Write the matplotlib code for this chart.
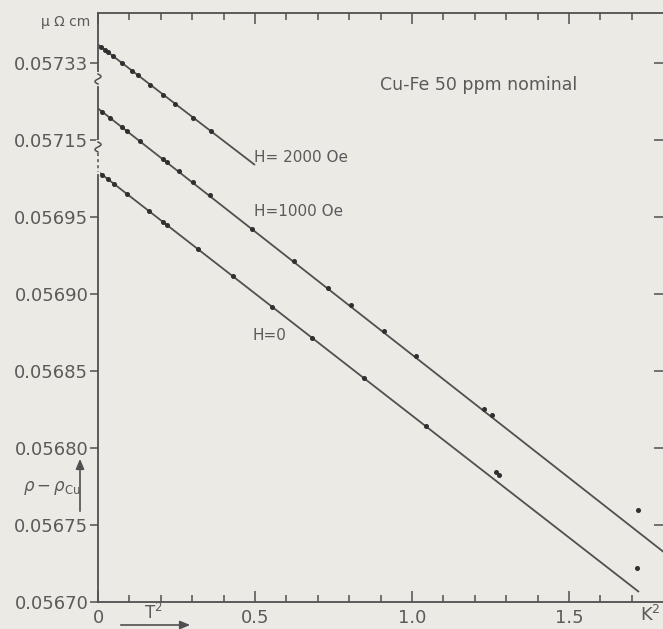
import numpy as np
import matplotlib
matplotlib.use("Agg")
import matplotlib.pyplot as plt

# ---------------- data (values in micro-ohm cm, x in K^2) ----------------
t2_h0 = [0.013, 0.032, 0.051, 0.092, 0.162, 0.207, 0.220, 0.318, 0.430, 0.554,
         0.682, 0.847, 1.045, 1.268, 1.277, 1.717]
rho_h0 = [0.0569775, 0.0569745, 0.0569715, 0.0569649, 0.0569538, 0.0569468,
          0.0569447, 0.0569292, 0.0569115, 0.0568918, 0.0568716, 0.0568454,
          0.0568141, 0.0567844, 0.0567825, 0.0567221]
line_h0_t2 = [0.0, 1.723]
line_h0_rho = [0.0569796, 0.0567065]

t2_h1000 = [0.013, 0.038, 0.076, 0.092, 0.134, 0.207, 0.220, 0.258, 0.303, 0.357,
            0.490, 0.624, 0.732, 0.806, 0.911, 1.013, 1.229, 1.255, 1.720]
rho_h1000 = [0.0571684, 0.0571644, 0.0571583, 0.0571558, 0.0571492, 0.0571376,
             0.0571355, 0.0571297, 0.0571227, 0.0571140, 0.0570925, 0.0570715,
             0.0570540, 0.0570427, 0.0570259, 0.0570097, 0.0569753, 0.0569712,
             0.0569097]
line_h1000_t2 = [0.0, 1.81]
line_h1000_rho = [0.0571705, 0.0568811]

t2_h2000 = [0.010, 0.022, 0.032, 0.048, 0.076, 0.108, 0.127, 0.166, 0.207, 0.245,
            0.303, 0.360]
rho_h2000 = [0.0573405, 0.0573386, 0.0573370, 0.0573345, 0.0573301, 0.0573251,
             0.0573221, 0.0573160, 0.0573095, 0.0573036, 0.0572946, 0.0572856]
line_h2000_t2 = [0.0, 0.5]
line_h2000_rho = [0.0573420, 0.0572638]

# broken-axis offsets (shift applied to plot each curve on the common scale)
offset_h0 = 0.0
offset_h1000 = 0.00015
offset_h2000 = 0.00028

ytick_pos = [0.05670, 0.05675, 0.05680, 0.05685, 0.05690, 0.05695, 0.05700, 0.05705]
ytick_labels = ["0.05670", "0.05675", "0.05680", "0.05685", "0.05690", "0.05695",
                "0.05715", "0.05733"]
xtick_major = [0.0, 0.5, 1.0, 1.5]
xtick_labels = ["0", "0.5", "1.0", "1.5"]

# ---------------- style ----------------
BG = "#ebeae5"
INK = "#505050"
TXT = "#5a5a5a"
W, H = 663, 629

plt.rcParams["font.family"] = ["DejaVu Sans"]
fig = plt.figure(figsize=(W / 100, H / 100), dpi=100, facecolor=BG)
L, R, T, B = 98, 664, 13, 602
ax = fig.add_axes([L / W, 1 - B / H, (R - L) / W, (B - T) / H])
ax.set_facecolor(BG)

xmax = (R - L) / 314.0
ymin, ymax = 0.05670, 0.0570825
ax.set_xlim(0, xmax)
ax.set_ylim(ymin, ymax)

def shift(vals, off):
    return [v - off for v in vals]

for tx, ry, lx, ly, off in [
    (t2_h0, rho_h0, line_h0_t2, line_h0_rho, offset_h0),
    (t2_h1000, rho_h1000, line_h1000_t2, line_h1000_rho, offset_h1000),
    (t2_h2000, rho_h2000, line_h2000_t2, line_h2000_rho, offset_h2000),
]:
    ax.plot(lx, shift(ly, off), color=INK, lw=1.3, solid_capstyle="butt")
    ax.plot(tx, shift(ry, off), ls="none", marker="o", ms=2.6, color="#303030")

for s in ax.spines.values():
    s.set_color(INK)
    s.set_linewidth(1.3)

ax.set_xticks(xtick_major)
ax.set_xticklabels(xtick_labels)
ax.set_xticks(np.arange(0.1, 1.75, 0.1), minor=True)
ax.tick_params(axis="x", which="both", direction="in", top=True, bottom=True,
               colors=INK, labelcolor=TXT, labelsize=13, pad=5, width=1.1)
ax.tick_params(axis="x", which="major", length=8)
ax.tick_params(axis="x", which="minor", length=5)

ax.set_yticks(ytick_pos)
ax.set_yticklabels(ytick_labels)
ax.tick_params(axis="y", which="both", direction="out", left=True, right=False,
               length=6, width=1.1, colors=INK, labelcolor=TXT, labelsize=13, pad=1)

ax2 = ax.twinx()
ax2.set_ylim(ymin, ymax)
ax2.set_yticks(ytick_pos[1:])
ax2.tick_params(axis="y", direction="in", length=7, width=1.1, colors=INK,
                labelright=False)
for s in ax2.spines.values():
    s.set_visible(False)

# axis break marks on left spine
hpx = B - T
def ypx_to_axes(py):
    return (B - py) / hpx
for py in [79, 147]:
    yc = ypx_to_axes(py)
    ax.plot([0, 0], [yc - 5 / hpx, yc + 5 / hpx], transform=ax.transAxes,
            color=BG, lw=3, clip_on=False, zorder=5)
    t = np.linspace(-np.pi, np.pi, 40)
    ax.plot(3.0 * np.sin(t) / (R - L), yc + t / np.pi * 5 / hpx,
            transform=ax.transAxes, color=INK, lw=1.1, clip_on=False, zorder=6)
# dashed stretch
y1, y2 = ypx_to_axes(153), ypx_to_axes(172)
ax.plot([0, 0], [y1, y2], transform=ax.transAxes, color=BG, lw=3,
        clip_on=False, zorder=5)
ax.plot([0, 0], [y1, y2], transform=ax.transAxes, color=INK, lw=1.1,
        ls=(0, (2, 2)), clip_on=False, zorder=6)

def fx(px):
    return px / W
def fy(py):
    return 1 - py / H

fig.text(fx(90), fy(22), "\u03bc \u03a9 cm", ha="right", va="center", color=TXT, fontsize=10)
fig.text(fx(380), fy(85), "Cu-Fe 50 ppm nominal", ha="left", va="center",
         color=TXT, fontsize=12.5)
fig.text(fx(254), fy(157), "H= 2000 Oe", ha="left", va="center", color=TXT, fontsize=11)
fig.text(fx(254), fy(212), "H=1000 Oe", ha="left", va="center", color=TXT, fontsize=11)
fig.text(fx(253), fy(336), "H=0", ha="left", va="center", color=TXT, fontsize=11)
fig.text(fx(650), fy(615), "K$^2$", ha="center", va="center", color=TXT, fontsize=13)
fig.text(fx(153), fy(613), "T$^2$", ha="center", va="center", color=TXT, fontsize=12)
fig.text(fx(52), fy(488), r"$\rho-\rho_{\rm Cu}$", ha="center", va="center",
         color=TXT, fontsize=12)

fig.add_artist(matplotlib.patches.FancyArrowPatch(
    (fx(80), fy(514)), (fx(80), fy(456)), transform=fig.transFigure,
    arrowstyle="-|>,head_length=6,head_width=2.5", color=INK, lw=1.2))
fig.add_artist(matplotlib.patches.FancyArrowPatch(
    (fx(118), fy(625)), (fx(193), fy(625)), transform=fig.transFigure,
    arrowstyle="-|>,head_length=6,head_width=2.5", color=INK, lw=1.2))

fig.savefig("out.png", dpi=100, facecolor=BG)
